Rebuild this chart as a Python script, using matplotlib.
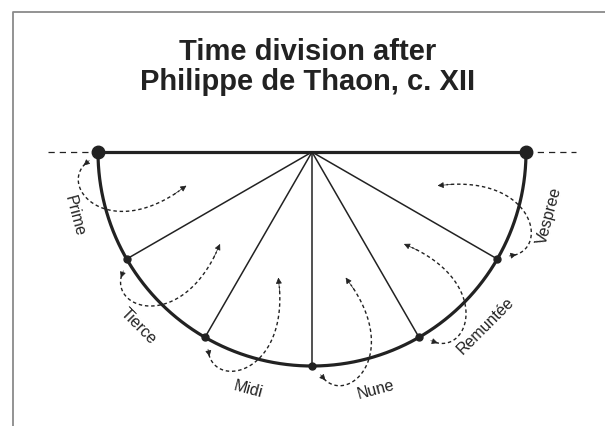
import numpy as np
import matplotlib.pyplot as plt

# horas canonicas (Philippe de Thaon) e o angulo de cada uma ao longo do semicirculo
horas = ["Prime", "Tierce", "Midi", "Nune", "Remuntée", "Vespree"]
angulos_horas = [0, 30, 60, 90, 120, 150]
angulo_fim = 180
titulo = "Time division after\nPhilippe de Thaon, c. XII"

plt.rcParams["font.family"] = ["Liberation Sans", "DejaVu Sans"]

fig = plt.figure(figsize=(6.05, 4.26), dpi=100)
ax = fig.add_axes([0, 0, 1, 1])
ax.set_xlim(0, 605)
ax.set_ylim(426, 0)
ax.axis("off")

cx, cy, R = 312, 152, 214
tinta = "#222222"


def pol(r, a):
    a = np.radians(a)
    return cx - r * np.cos(a), cy + r * np.sin(a)


def bezier(p0, p1, p2, p3, t):
    t = np.asarray(t)[:, None]
    p0, p1, p2, p3 = map(np.array, (p0, p1, p2, p3))
    return (1 - t) ** 3 * p0 + 3 * (1 - t) ** 2 * t * p1 + 3 * (1 - t) * t ** 2 * p2 + t ** 3 * p3


# moldura
ax.plot([13, 13, 605], [426, 12, 12], color="#8a8a8a", lw=1.3, solid_capstyle="butt")

# titulo
ax.text(308, 67, titulo, ha="center", va="center", fontsize=21,
        fontweight="bold", color=tinta, linespacing=1.1)

# semicirculo e diametro
t = np.linspace(0, angulo_fim, 200)
xa, ya = pol(R, t)
ax.plot(xa, ya, color=tinta, lw=2.3)
ax.plot([cx - R, cx + R], [cy, cy], color=tinta, lw=2.3)
ax.plot([cx - R - 50, cx - R], [cy, cy], color=tinta, lw=0.9, dashes=(5, 4))
ax.plot([cx + R, cx + R + 50], [cy, cy], color=tinta, lw=0.9, dashes=(5, 4))

# raios
for a in angulos_horas[1:]:
    x1, y1 = pol(R, a)
    ax.plot([cx, x1], [cy, y1], color=tinta, lw=1.1)
    ax.plot(x1, y1, "o", color=tinta, ms=5)

for a in [angulos_horas[0], angulo_fim]:
    x1, y1 = pol(R, a)
    ax.plot(x1, y1, "o", color=tinta, ms=9)

# setas tracejadas e nomes
for nome, a in zip(horas, angulos_horas):
    p0 = pol(R + 4, a + 1.5)
    p1 = pol(R + 50, a + 6)
    p2 = pol(R + 14, a + 25)
    p3 = pol(130, a + 15)
    pts = bezier(p0, p1, p2, p3, np.linspace(0.08, 0.97, 80))
    ax.plot(pts[:, 0], pts[:, 1], color=tinta, lw=1.0, dashes=(2.5, 2))
    fim = bezier(p0, p1, p2, p3, [0.95, 1.0])
    ax.annotate("", xy=fim[1], xytext=fim[0],
                arrowprops=dict(arrowstyle="-|>", color=tinta, lw=0.5,
                                mutation_scale=9, shrinkA=0, shrinkB=0))
    ini = bezier(p0, p1, p2, p3, [0.04, 0.1])
    ax.annotate("", xy=ini[1], xytext=ini[0],
                arrowprops=dict(arrowstyle="-|>", color=tinta, lw=0.5,
                                mutation_scale=9, shrinkA=0, shrinkB=0))
    lx, ly = pol(246, a + 15)
    ax.text(lx, ly, nome, ha="center", va="center", fontsize=11.5,
            color=tinta, rotation=a + 15 - 90, rotation_mode="anchor")

fig.savefig("out.png", dpi=100)
